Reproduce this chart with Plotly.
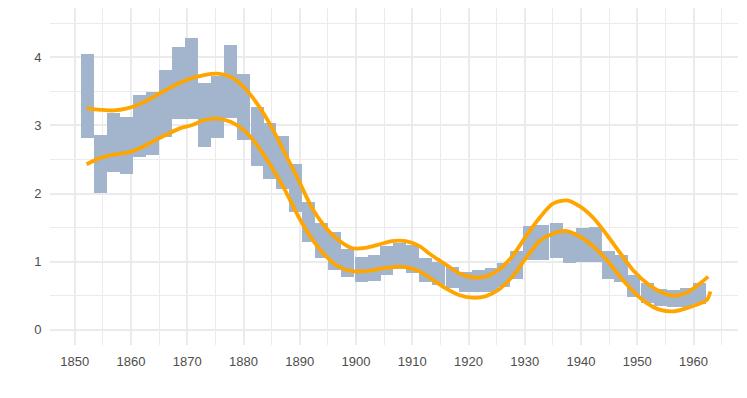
import plotly.graph_objects as go

# Bar centres (years) and low/high values
bar_years = [1852.3, 1854.6, 1856.9, 1859.2, 1861.5, 1863.9, 1866.2, 1868.5, 1870.8, 1873.1,
             1875.4, 1877.7, 1880.0, 1882.4, 1884.7, 1887.0, 1889.3, 1891.6, 1893.9, 1896.2,
             1898.5, 1900.9, 1903.2, 1905.5, 1907.8, 1910.1, 1912.4, 1914.7, 1917.1, 1919.4,
             1921.7, 1924.0, 1926.3, 1928.6, 1930.9, 1933.2, 1935.6, 1937.9, 1940.2, 1942.5,
             1944.8, 1947.1, 1949.4, 1951.8, 1954.1, 1956.4, 1958.7, 1961.0]
bar_low = [2.81, 2.01, 2.31, 2.28, 2.54, 2.56, 2.83, 3.09, 3.10, 2.69,
           2.81, 3.11, 2.78, 2.40, 2.21, 2.06, 1.73, 1.29, 1.06, 0.88,
           0.77, 0.70, 0.71, 0.81, 0.89, 0.83, 0.70, 0.65, 0.61, 0.55,
           0.56, 0.56, 0.63, 0.75, 1.03, 1.03, 1.05, 0.98, 0.99, 1.00,
           0.75, 0.70, 0.48, 0.39, 0.35, 0.33, 0.34, 0.37]
bar_high = [4.05, 2.86, 3.19, 3.13, 3.45, 3.49, 3.82, 4.15, 4.28, 3.62,
            3.72, 4.18, 3.75, 3.27, 3.03, 2.85, 2.43, 1.88, 1.57, 1.44,
            1.18, 1.07, 1.09, 1.23, 1.28, 1.25, 1.05, 0.99, 0.92, 0.85,
            0.87, 0.90, 0.98, 1.15, 1.53, 1.54, 1.56, 1.44, 1.49, 1.51,
            1.15, 1.10, 0.81, 0.68, 0.60, 0.59, 0.61, 0.69]

# Smoothed upper curve
up_years = [1852.1, 1854.5, 1856.9, 1859.3, 1861.7, 1864.0, 1866.4, 1868.8, 1871.0, 1873.0,
            1875.4, 1877.8, 1880.2, 1882.5, 1884.9, 1887.3, 1889.7, 1892.1, 1894.4, 1896.8,
            1899.2, 1901.6, 1904.0, 1906.4, 1908.8, 1911.2, 1913.5, 1915.9, 1918.3, 1920.7,
            1923.0, 1925.4, 1927.8, 1930.2, 1932.6, 1935.0, 1937.5, 1939.8, 1942.2, 1944.7,
            1947.1, 1949.5, 1951.9, 1954.3, 1956.5, 1958.9, 1961.3, 1962.6]
up_vals = [3.25, 3.23, 3.22, 3.25, 3.32, 3.42, 3.53, 3.63, 3.70, 3.74,
           3.76, 3.71, 3.55, 3.31, 2.99, 2.60, 2.21, 1.80, 1.52, 1.32,
           1.20, 1.20, 1.25, 1.30, 1.30, 1.23, 1.09, 0.96, 0.83, 0.77,
           0.78, 0.88, 1.08, 1.37, 1.64, 1.85, 1.90, 1.81, 1.64, 1.38,
           1.11, 0.85, 0.67, 0.55, 0.50, 0.55, 0.69, 0.78]

# Smoothed lower curve
lo_years = [1852.1, 1854.5, 1856.9, 1859.3, 1861.7, 1864.0, 1866.4, 1868.8, 1871.0, 1873.0,
            1875.4, 1877.8, 1880.2, 1882.5, 1884.9, 1887.3, 1889.7, 1892.1, 1894.4, 1896.8,
            1899.2, 1901.6, 1904.0, 1906.4, 1908.8, 1911.2, 1913.5, 1915.9, 1918.3, 1920.7,
            1923.0, 1925.4, 1927.8, 1930.2, 1932.6, 1935.0, 1937.2, 1939.7, 1942.1, 1944.5,
            1946.9, 1949.3, 1951.7, 1954.1, 1956.5, 1958.9, 1961.3, 1962.4, 1963.0]
lo_vals = [2.43, 2.52, 2.57, 2.60, 2.67, 2.77, 2.87, 2.96, 3.01, 3.08,
           3.10, 3.05, 2.92, 2.70, 2.40, 2.06, 1.67, 1.34, 1.10, 0.93,
           0.86, 0.86, 0.89, 0.92, 0.92, 0.86, 0.74, 0.61, 0.51, 0.47,
           0.49, 0.59, 0.78, 1.05, 1.30, 1.41, 1.45, 1.37, 1.23, 1.03,
           0.78, 0.56, 0.39, 0.29, 0.27, 0.32, 0.39, 0.44, 0.56]

x_ticks = [1850, 1860, 1870, 1880, 1890, 1900, 1910, 1920, 1930, 1940, 1950, 1960]
y_ticks = [0, 1, 2, 3, 4]

fig = go.Figure()
fig.add_trace(go.Bar(
    x=bar_years,
    y=[h - l for h, l in zip(bar_high, bar_low)],
    base=bar_low,
    width=2.313,
    marker=dict(color="#A2B5CD", line=dict(width=0)),
    showlegend=False,
    hoverinfo="skip",
))
for xs, ys in [(up_years, up_vals), (lo_years, lo_vals)]:
    fig.add_trace(go.Scatter(
        x=xs, y=ys, mode="lines",
        line=dict(color="#FFA500", width=3.8, shape="spline", smoothing=0.8),
        showlegend=False, hoverinfo="skip",
    ))

grid = "#EBEBEB"
fig.update_layout(
    width=739, height=390,
    margin=dict(l=42, r=9, t=0, b=53),
    paper_bgcolor="white", plot_bgcolor="white",
    font=dict(family="Liberation Sans, Arial, sans-serif", size=13, color="#4D4D4D"),
    bargap=0,
    xaxis=dict(
        range=[1845.6, 1967.9],
        tickvals=x_ticks, ticktext=[str(v) for v in x_ticks],
        showgrid=True, gridcolor=grid, gridwidth=1.5,
        minor=dict(dtick=5, tick0=1845, showgrid=True, gridcolor=grid, gridwidth=0.8),
        zeroline=False, showline=False, automargin=False,
        ticks="outside", ticklen=4, tickcolor="rgba(0,0,0,0)",
        tickfont=dict(size=13, color="#4D4D4D"),
    ),
    yaxis=dict(
        range=[-0.225, 4.725],
        tickvals=y_ticks, ticktext=[str(v) for v in y_ticks],
        showgrid=True, gridcolor=grid, gridwidth=1.5,
        minor=dict(dtick=0.5, tick0=0, showgrid=True, gridcolor=grid, gridwidth=0.8),
        zeroline=False, showline=False, automargin=False,
        ticks="outside", ticklen=5, tickcolor="rgba(0,0,0,0)",
        tickfont=dict(size=13, color="#4D4D4D"),
    ),
)

fig.write_html("out.html")
